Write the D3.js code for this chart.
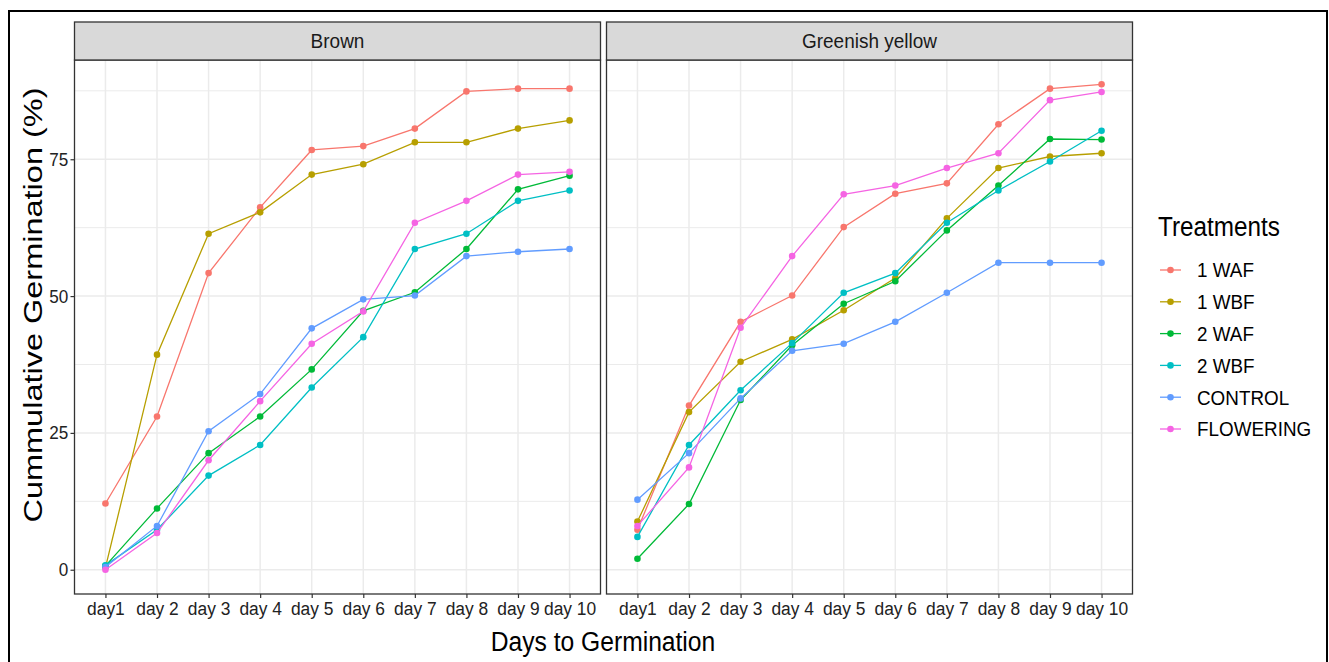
<!DOCTYPE html>
<html><head><meta charset="utf-8">
<script src="https://cdn.jsdelivr.net/npm/d3@7"></script>
<style>body{margin:0;background:#fff}svg{display:block}text{font-family:"Liberation Sans",Arial,sans-serif}</style>
</head><body>
<svg id="c" width="1329" height="662"></svg>
<script>
const days = ["day1","day 2","day 3","day 4","day 5","day 6","day 7","day 8","day 9","day 10"];
const panels = ["Brown","Greenish yellow"];
const treatments = ["1 WAF","1 WBF","2 WAF","2 WBF","CONTROL","FLOWERING"];
const colors = ["#F8766D","#B79F00","#00BA38","#00BFC4","#619CFF","#F564E3"];
const yTicks = [0,25,50,75];

const brown_1WAF      = [12.1, 28.0, 54.2, 66.2, 76.7, 77.4, 80.6, 87.4, 87.9, 87.9];
const brown_1WBF      = [0.4, 39.3, 61.4, 65.3, 72.2, 74.1, 78.1, 78.1, 80.6, 82.1];
const brown_2WAF      = [0.7, 11.2, 21.3, 28.0, 36.6, 47.3, 50.7, 58.6, 69.5, 72.0];
const brown_2WBF      = [0.8, 7.3, 17.2, 22.8, 33.3, 42.5, 58.6, 61.4, 67.4, 69.3];
const brown_CONTROL   = [0.5, 8.0, 25.3, 32.1, 44.1, 49.4, 50.1, 57.3, 58.1, 58.6];
const brown_FLOWERING = [0.0, 6.7, 20.0, 30.8, 41.3, 47.2, 63.4, 67.4, 72.2, 72.7];

const gy_1WAF      = [7.3, 30.0, 45.3, 50.1, 62.6, 68.7, 70.6, 81.4, 87.9, 88.7];
const gy_1WBF      = [8.8, 28.8, 38.0, 42.1, 47.4, 53.3, 64.2, 73.4, 75.5, 76.1];
const gy_2WAF      = [2.0, 12.0, 31.0, 41.0, 48.6, 52.7, 62.0, 70.2, 78.7, 78.6];
const gy_2WBF      = [6.0, 22.8, 32.8, 41.4, 50.6, 54.2, 63.4, 69.3, 74.6, 80.2];
const gy_CONTROL   = [12.8, 21.3, 31.3, 40.0, 41.3, 45.3, 50.6, 56.1, 56.1, 56.1];
const gy_FLOWERING = [8.0, 18.7, 44.2, 57.3, 68.6, 70.2, 73.4, 76.1, 85.8, 87.3];

const seriesByPanel = [
  [brown_1WAF, brown_1WBF, brown_2WAF, brown_2WBF, brown_CONTROL, brown_FLOWERING],
  [gy_1WAF, gy_1WBF, gy_2WAF, gy_2WBF, gy_CONTROL, gy_FLOWERING]
];

const svg = d3.select("#c");
const SX = 0.88;

// outer frame
svg.append("rect").attr("x",9).attr("y",11).attr("width",1318).attr("height",660)
  .attr("fill","none").attr("stroke","#000").attr("stroke-width",2);

const panelLefts = [74.5, 606.5];
const panelW = 526;
const stripTop = 22, plotTop = 60, plotBottom = 594;

const allVals = seriesByPanel.flat(2);
const ymax = d3.max(allVals), ymin = d3.min(allVals);
const pad = (ymax-ymin)*0.05;
const y = d3.scaleLinear().domain([ymin-pad, ymax+pad]).range([plotBottom, plotTop]);
const minorTicks = [12.5,37.5,62.5,87.5];

panels.forEach((name, pi) => {
  const left = panelLefts[pi];
  const step = panelW/(days.length-1+1.2);
  const x = d3.scalePoint().domain(days).range([left+0.6*step, left+panelW-0.6*step]);
  const g = svg.append("g");
  g.append("rect").attr("x",left).attr("y",plotTop).attr("width",panelW).attr("height",plotBottom-plotTop).attr("fill","#fff");
  g.selectAll(".mn").data(minorTicks).join("line")
    .attr("x1",left).attr("x2",left+panelW).attr("y1",d=>y(d)).attr("y2",d=>y(d))
    .attr("stroke","#EBEBEB").attr("stroke-width",1);
  g.selectAll(".mj").data(yTicks).join("line")
    .attr("x1",left).attr("x2",left+panelW).attr("y1",d=>y(d)).attr("y2",d=>y(d))
    .attr("stroke","#EBEBEB").attr("stroke-width",1.5);
  g.selectAll(".vx").data(days).join("line")
    .attr("x1",d=>x(d)).attr("x2",d=>x(d)).attr("y1",plotTop).attr("y2",plotBottom)
    .attr("stroke","#EBEBEB").attr("stroke-width",1.5);

  const line = d3.line().x((d,i)=>x(days[i])).y(d=>y(d));
  seriesByPanel[pi].forEach((vals, si) => {
    g.append("path").attr("d", line(vals)).attr("fill","none")
      .attr("stroke", colors[si]).attr("stroke-width",1.3);
    g.selectAll(null).data(vals).join("circle")
      .attr("cx",(d,i)=>x(days[i])).attr("cy",d=>y(d)).attr("r",3.3).attr("fill",colors[si]);
  });

  g.append("rect").attr("x",left).attr("y",plotTop).attr("width",panelW).attr("height",plotBottom-plotTop)
    .attr("fill","none").attr("stroke","#333").attr("stroke-width",1.3);
  g.append("rect").attr("x",left).attr("y",stripTop).attr("width",panelW).attr("height",plotTop-stripTop)
    .attr("fill","#D9D9D9").attr("stroke","#333").attr("stroke-width",1.3);
  g.append("text").attr("transform",`translate(${left+panelW/2},${(stripTop+plotTop)/2}) scale(0.95,1)`)
    .attr("text-anchor","middle").attr("dy","0.36em").attr("font-size",20).attr("fill","#1A1A1A").text(name);

  const xa = g.append("g").attr("transform",`translate(0,${plotBottom})`)
    .call(d3.axisBottom(x).tickSize(4).tickPadding(4));
  xa.select(".domain").remove();
  xa.selectAll(".tick line").attr("stroke","#333").attr("stroke-width",1.2);
  xa.selectAll(".tick text").attr("font-size",19).attr("fill","#222").attr("font-family","Liberation Sans, Arial, sans-serif")
    .attr("transform",`scale(0.915,1)`);

  if (pi === 0) {
    const ya = g.append("g").attr("transform",`translate(${left},0)`)
      .call(d3.axisLeft(y).tickValues(yTicks).tickSize(4).tickPadding(3));
    ya.select(".domain").remove();
    ya.selectAll(".tick line").attr("stroke","#333").attr("stroke-width",1.2);
    ya.selectAll(".tick text").attr("font-size",19).attr("fill","#222").attr("font-family","Liberation Sans, Arial, sans-serif")
      .attr("transform",`scale(0.9,1)`);
  }
});

svg.append("text").attr("transform",`translate(603,651) scale(${SX},1)`).attr("text-anchor","middle")
  .attr("font-size",28).attr("fill","#000").text("Days to Germination");
svg.append("text").attr("transform",`translate(42,305) scale(0.82,1) rotate(-90)`).attr("text-anchor","middle")
  .attr("font-size",32.5).attr("fill","#000").text("Cummulative Germination (%)");

const lg = svg.append("g");
lg.append("text").attr("transform",`translate(1158,236) scale(0.9,1)`).attr("font-size",27).attr("fill","#000").text("Treatments");
treatments.forEach((t, i) => {
  const cy = 270 + i*31.8;
  lg.append("line").attr("x1",1160).attr("x2",1181).attr("y1",cy).attr("y2",cy).attr("stroke",colors[i]).attr("stroke-width",1.3);
  lg.append("circle").attr("cx",1170.5).attr("cy",cy).attr("r",3.3).attr("fill",colors[i]);
  lg.append("text").attr("transform",`translate(1197,${cy}) scale(0.92,1)`).attr("dy","0.36em")
    .attr("font-size",20.5).attr("fill","#000").text(t);
});
</script>
</body></html>
